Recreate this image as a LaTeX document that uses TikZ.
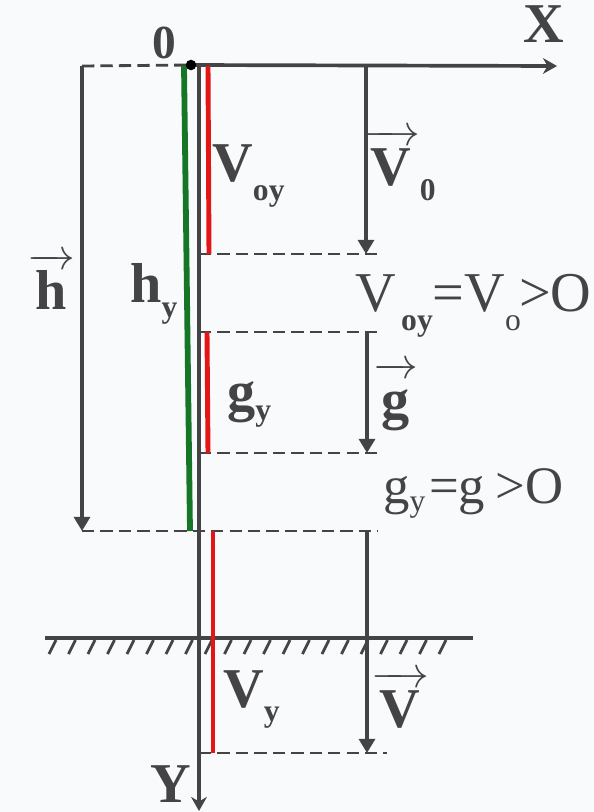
\documentclass[tikz,border=0pt]{standalone}
\usepackage{amsmath}
\usepackage{fontspec}
\setmainfont{Liberation Serif}
\usetikzlibrary{arrows.meta}
\definecolor{ink}{RGB}{68,68,70}
\definecolor{paper}{RGB}{249,250,251}
\definecolor{cH}{RGB}{20,118,38}
\definecolor{cComp}{RGB}{226,22,22}
\tikzset{
  axis/.style={draw=ink,line width=2.1pt,-{Stealth[length=8pt,width=9pt]}},
  ar/.style={draw=ink,line width=2pt,-{Triangle[length=8pt,width=9pt]}},
  guide/.style={draw=ink,line width=1.6pt,dash pattern=on 7pt off 3.5pt},
  comp/.style={draw=cComp,line width=2.8pt},
  tag/.style={font=\fontsize{32}{32}\selectfont\bfseries,text=ink,
    inner sep=0pt,anchor=base west},
  eq/.style={font=\fontsize{32}{32}\selectfont,text=ink,
    inner sep=0pt,anchor=base west},
}
\newcommand{\dn}[2][9pt]{\raisebox{-#1}{\fontsize{18}{18}\selectfont #2}}
\newcommand{\vect}[1]{$\overrightarrow{\rule{0pt}{.7em}\hspace{.15em}\text{#1}\hspace{.15em}}$}

\begin{document}
\begin{tikzpicture}[x=0.02cm,y=-0.02cm]
  \fill[paper] (0,0) rectangle (594,812);
  \useasboundingbox (0,0) rectangle (594,812);
  % axes
  \coordinate (O)   at (199,66);
  \coordinate (Xe)  at (557,66);
  \coordinate (Ye)  at (199,811);
  \coordinate (dot) at (191,65);
  \coordinate (hT)  at (82,66);
  \coordinate (hB)  at (82,531);
  \coordinate (hyT) at (184,66);
  \coordinate (hyB) at (190,531);
  \coordinate (v0T) at (366,66);
  \coordinate (v0B) at (366,254);
  \coordinate (gT)  at (367,332);
  \coordinate (gB)  at (367,453);
  \coordinate (vT)  at (367,531);
  \coordinate (vB)  at (367,753);
  \coordinate (d1)  at (378,254);
  \coordinate (d2)  at (378,332);
  \coordinate (d3)  at (382,453);
  \coordinate (d4)  at (378,531);
  \coordinate (d5)  at (387,753);
  \coordinate (gl)  at (45,638);
  \coordinate (gr)  at (473,638);
  \coordinate (r1a) at (208,66);
  \coordinate (r1b) at (209,254);
  \coordinate (r2a) at (207,332);
  \coordinate (r2b) at (208,453);
  \coordinate (r3a) at (213,531);
  \coordinate (r3b) at (213,753);

  \draw[guide] (hT) -- (dot);
  \draw[axis] (dot) -- (Xe);
  \draw[axis] (O) -- (Ye);
  \draw[guide] (O |- v0B) -- (d1);
  \draw[guide] (O |- gT) -- (d2);
  \draw[guide] (O |- gB) -- (d3);
  \draw[guide] (hB) -- (d4);
  \draw[guide] (O |- vB) -- (d5);
  % ground
  \draw[ink,line width=2.1pt] (gl) -- (gr);
  \foreach \x in {52,71.5,...,450}
    \draw[ink,line width=1.6pt] (\x+4,640) -- (\x-3,654);
  % vectors
  \draw[ar] (hT) -- (hB);
  \draw[ar] (v0T) -- (v0B);
  \draw[ar] (gT) -- (gB);
  \draw[ar] (vT) -- (vB);
  % components
  \draw[draw=cH,line width=3.3pt] (hyT) -- (hyB);
  \draw[comp] (r1a) -- (r1b);
  \draw[comp] (r2a) -- (r2b);
  \draw[comp] (r3a) -- (r3b);
  \fill[black] (dot) circle[radius=3pt];

  \node[tag] (l0) at (152,58) {\fontsize{27}{27}\selectfont 0};
  \node[tag] (lX) at (523,42) {X};
  \node[tag] (lY) at (150,802) {Y};
  \node[tag] (lh)   at (27,309)  {\vect{h}};
  \node[tag] (lhy)  at (130,302) {h\dn{y}};
  \node[tag] (lV0y) at (212,181) {V\dn[11pt]{oy}};
  \node[tag] (lV0)  at (362,185) {\vect{V}\dn{0}};
  \node[tag] (lgy)  at (227,410) {g\dn[6pt]{y}};
  \node[tag] (lg)   at (373,418) {\vect{g}};
  \node[tag] (lVy)  at (223,707) {V\dn[8pt]{y}};
  \node[tag] (lV)   at (371,727) {\vect{V}};
  \node[eq] (eqV) at (355,311)
     {V\hspace{3pt}\dn[11pt]{\bfseries oy}=V\dn[11pt]{o}\hspace{-1pt}>O};
  \node[eq,font=\fontsize{30}{30}\selectfont] (eqg) at (383,503)
     {g\dn[5pt]{y}\hspace{2pt}=g\hspace{6pt}>O};
\end{tikzpicture}
\end{document}
